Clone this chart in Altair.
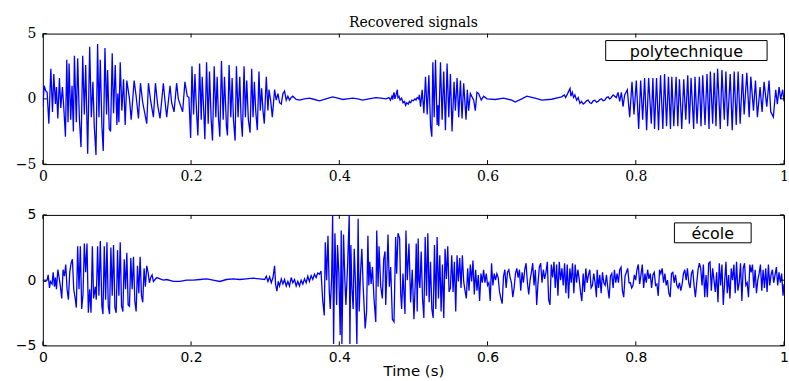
import altair as alt
import pandas as pd

# ---------------- data ----------------
x_ticks = [0, 0.2, 0.4, 0.6, 0.8, 1]
y_ticks = [-5, 0, 5]
top_label = "polytechnique"
bottom_label = "école"

# top panel: (time s, amplitude)
top_burst1 = [
    (0, -0.6), (0.0018, 1.0), (0.0040, 0.6), (0.0058, 0.5), (0.0081, -1.9), (0.0108, 2.3),
    (0.0130, -1.0), (0.0148, 1.9), (0.0170, -0.4), (0.0184, 0.9), (0.0202, -1.5), (0.0224, 1.6),
    (0.0242, -0.7), (0.0264, 0.9), (0.0282, -0.6), (0.0305, -2.9), (0.0323, 3.0), (0.0340, -1.8),
    (0.0354, 2.7), (0.0376, -1.6), (0.0394, 1.0), (0.0412, -2.5), (0.0426, 3.3), (0.0452, -1.8),
    (0.0470, 3.1), (0.0493, -1.5), (0.0515, -3.7), (0.0538, 3.3), (0.0560, -1.2), (0.0578, 2.6),
    (0.0605, -4.2), (0.0632, 4.0), (0.0654, -1.4), (0.0676, 1.3), (0.0694, -2.1), (0.0717, -4.3),
    (0.0739, 4.2), (0.0757, -1.4), (0.0775, 3.0), (0.0797, -2.1), (0.0815, -4.0), (0.0838, 3.9),
    (0.0860, -1.2), (0.0874, 2.2), (0.0896, -2.3), (0.0914, -2.5), (0.0936, 3.5), (0.0954, -1.1),
    (0.0977, 2.6), (0.0999, -2.0), (0.1012, 0.4), (0.1026, -1.8), (0.1044, 2.8), (0.1066, -0.9),
    (0.1089, 1.5), (0.1111, -2.0), (0.1133, 1.4), (0.1169, 0.0), (0.1192, -1.6), (0.1232, 1.4),
    (0.1259, 0.2), (0.1290, -1.5), (0.1317, 1.2), (0.1348, -0.3), (0.1402, -1.9), (0.1425, 1.2),
    (0.1456, -0.2), (0.1492, -1.4), (0.1519, 1.2), (0.1550, -0.5), (0.1581, -1.5), (0.1626, 1.2),
    (0.1649, -0.2), (0.1671, -1.4), (0.1716, 1.0), (0.1738, -0.3), (0.1770, -1.0), (0.1805, 1.2),
    (0.1828, 0.0), (0.1886, -1.0), (0.1917, 1.3), (0.1949, 0.2), (0.1971, 0.1),
]
top_burst2 = [
    (0.1994, -3.0), (0.2012, 2.5), (0.2034, -1.2), (0.2052, 1.9), (0.2074, -1.0), (0.2092, -2.8),
    (0.2115, 2.7), (0.2137, -1.6), (0.2150, 1.7), (0.2173, -1.2), (0.2186, -3.1), (0.2209, 2.8),
    (0.2231, -1.9), (0.2249, 2.1), (0.2271, -1.6), (0.2289, -3.2), (0.2312, 2.5), (0.2334, -1.4),
    (0.2352, 1.7), (0.2370, -1.5), (0.2388, -2.9), (0.2410, 2.9), (0.2433, -1.6), (0.2451, 1.7),
    (0.2477, -2.1), (0.2491, -2.8), (0.2513, 2.6), (0.2536, -1.4), (0.2554, 1.6), (0.2572, -1.6),
    (0.2594, -3.2), (0.2612, 2.5), (0.2634, -1.4), (0.2657, 1.7), (0.2675, -1.6), (0.2692, -2.9),
    (0.2715, 2.5), (0.2733, -1.4), (0.2751, 1.4), (0.2773, -1.6), (0.2796, -2.6), (0.2818, 2.3),
    (0.2836, -1.4), (0.2854, 1.3), (0.2872, -0.9), (0.2894, -2.4), (0.2916, 2.1), (0.2934, -0.9),
    (0.2952, 0.8), (0.2970, -0.9), (0.2988, -1.9), (0.3015, 1.7), (0.3037, -0.9), (0.3051, 0.7),
    (0.3073, -0.1), (0.3096, -1.4), (0.3127, 0.7), (0.3149, -0.1), (0.3172, 0.4), (0.3194, -0.3),
    (0.3217, -0.4), (0.3239, 0.4), (0.3261, 0.6), (0.3284, -0.1), (0.3306, 0.2), (0.3328, -0.1),
    (0.3351, 0.1), (0.3373, 0.2), (0.3418, -0.05),
]
top_quiet1 = [
    (0.3463, -0.1), (0.3530, 0.0), (0.3597, 0.05), (0.3665, -0.05), (0.3732, -0.15), (0.3820, 0.0),
    (0.3911, 0.15), (0.3980, 0.05), (0.4045, -0.05), (0.4110, 0.0), (0.4180, 0.05), (0.4250, 0.0),
    (0.4314, -0.1), (0.4400, 0.0), (0.4493, 0.1), (0.4560, 0.05), (0.4628, 0.0),
    (0.4670, 0.1), (0.4690, -0.1), (0.4710, 0.2), (0.4720, -0.05), (0.4738, 0.5), (0.4750, 0.0),
    (0.4765, 0.3), (0.4783, 0.7), (0.4790, 0.1), (0.4805, 0.2), (0.4820, -0.1), (0.4840, 0.05),
    (0.4860, -0.3), (0.4880, -0.2), (0.4895, -0.5), (0.4910, -0.3), (0.4930, -0.4), (0.4945, -0.2),
    (0.4962, -0.3), (0.4980, -0.1), (0.5000, -0.15), (0.5020, 0.0), (0.5035, -0.1), (0.5051, 0.1),
    (0.5070, 0.0), (0.5080, 0.3),
]
top_burst3 = [
    (0.5096, -0.6), (0.5118, 0.7), (0.5141, -1.1), (0.5163, 1.7), (0.5186, -1.2), (0.5208, 1.8),
    (0.5231, -2.1), (0.5248, -2.9), (0.5262, 2.8), (0.5280, -1.4), (0.5298, 3.0), (0.5320, -2.0),
    (0.5331, -0.5), (0.5342, -2.1), (0.5365, 2.8), (0.5387, -1.6), (0.5409, 2.1), (0.5432, -2.4),
    (0.5454, 2.7), (0.5477, -1.4), (0.5499, 1.9), (0.5521, -2.5), (0.5548, 1.3), (0.5566, -0.9),
    (0.5589, 1.6), (0.5611, -1.4), (0.5634, 1.4), (0.5656, -1.5), (0.5678, 1.2), (0.5710, -1.6),
    (0.5727, 0.7), (0.5745, -0.9), (0.5768, 0.4), (0.5813, -0.1), (0.5835, -0.9), (0.5857, 0.5),
    (0.5880, 0.4), (0.5915, -0.1), (0.5947, 0.2), (0.5992, 0.0),
]
top_quiet2 = [
    (0.6104, -0.05), (0.6216, 0.05), (0.6327, -0.1), (0.6372, -0.25), (0.6462, 0.0), (0.6529, 0.2),
    (0.6641, 0.05), (0.6731, -0.1), (0.6865, -0.03), (0.6955, 0.1), (0.7000, 0.15), (0.7036, 0.3),
    (0.7053, 0.1), (0.7080, 0.4), (0.7113, 0.8), (0.7125, 0.2), (0.7143, 0.5), (0.7161, 0.1),
    (0.7179, 0.3), (0.7201, -0.1), (0.7223, 0.1), (0.7246, -0.35), (0.7268, -0.2), (0.7290, -0.4),
    (0.7313, -0.3), (0.7335, -0.15), (0.7358, -0.1), (0.7380, -0.3), (0.7403, -0.35), (0.7425, -0.15),
    (0.7447, -0.1), (0.7470, -0.25), (0.7492, -0.2), (0.7515, -0.05), (0.7537, 0.0), (0.7560, -0.15),
    (0.7582, -0.1), (0.7605, 0.1), (0.7627, 0.15), (0.7645, 0.0), (0.7662, 0.05), (0.7694, 0.3),
    (0.7738, 0.1), (0.7760, 0.5), (0.7783, -0.2),
]
top_burst4 = [
    (0.7806, 0.5), (0.7828, -0.6), (0.7850, 0.3), (0.7886, 0.7), (0.7918, -1.4), (0.7949, 1.3),
    (0.7976, -1.2), (0.8007, 1.4), (0.8039, -2.3), (0.8066, 1.4), (0.8093, -1.6), (0.8119, 1.6),
    (0.8146, -2.4), (0.8173, 1.6), (0.8209, -1.9), (0.8231, 1.6), (0.8253, -2.3), (0.8280, 1.6),
    (0.8307, -2.4), (0.8334, 1.8), (0.8365, -2.3), (0.8388, 1.9), (0.8415, -2.1), (0.8441, 1.7),
    (0.8468, -2.3), (0.8486, 1.7), (0.8513, -2.1), (0.8544, 1.7), (0.8567, -2.1), (0.8589, 1.5),
    (0.8620, -2.3), (0.8647, 1.5), (0.8674, -1.6), (0.8701, 1.8), (0.8723, -1.9), (0.8746, 1.6),
    (0.8781, -2.3), (0.8799, 1.7), (0.8826, -1.9), (0.8858, 1.7), (0.8880, -2.1), (0.8903, 1.8),
    (0.8934, -2.0), (0.8961, 1.9), (0.8988, -2.3), (0.9006, 2.1), (0.9037, -1.9), (0.9059, 2.0),
    (0.9082, -2.1), (0.9104, 2.3), (0.9140, -2.3), (0.9162, 2.2), (0.9194, -1.6), (0.9216, 2.1),
    (0.9239, -2.1), (0.9274, 1.9), (0.9301, -2.4), (0.9328, 2.1), (0.9355, -2.0), (0.9381, 2.1),
    (0.9408, -1.9), (0.9440, 1.9), (0.9462, -1.2), (0.9498, 2.0), (0.9530, -1.4), (0.9552, 1.7),
    (0.9588, -0.9), (0.9615, 1.4), (0.9641, -1.4), (0.9677, 0.9), (0.9704, -1.0), (0.9731, 1.3),
    (0.9767, -0.6), (0.9798, 1.4), (0.9821, -1.0), (0.9856, -1.4), (0.9888, 0.7), (0.9910, -0.4),
    (0.9933, 0.9), (0.9955, 0.0), (0.9982, 0.7), (1.0, -0.2),
]

# bottom panel: (time s, amplitude)
bottom_burst1 = [
    (0, -0.1), (0.0036, -0.1), (0.0058, 0.0), (0.0072, 0.4), (0.0090, -0.6), (0.0103, -0.1),
    (0.0125, -0.3), (0.0139, 0.6), (0.0157, -0.5), (0.0170, 0.2), (0.0184, -0.7), (0.0202, 0.8),
    (0.0220, 0.2), (0.0237, -0.5), (0.0255, -1.4), (0.0273, 0.8), (0.0291, 0.3), (0.0309, 1.2),
    (0.0327, -0.7), (0.0345, -1.5), (0.0363, 0.6), (0.0381, 1.3), (0.0399, 1.6), (0.0417, -0.7),
    (0.0439, -1.5), (0.0452, -2.1), (0.0470, 2.6), (0.0488, -0.7), (0.0506, 2.6), (0.0524, -2.2),
    (0.0542, -1.1), (0.0560, 2.8), (0.0578, 0.6), (0.0596, 2.8), (0.0614, -2.5), (0.0632, -0.7),
    (0.0650, -2.5), (0.0668, 2.6), (0.0685, -1.4), (0.0708, -0.5), (0.0721, -1.5), (0.0739, 2.6),
    (0.0757, -1.2), (0.0775, 3.0), (0.0797, -2.0), (0.0811, -2.6), (0.0829, 2.6), (0.0847, -1.5),
    (0.0865, 2.9), (0.0883, -2.0), (0.0900, -2.6), (0.0918, 2.5), (0.0936, -1.2), (0.0954, 2.7),
    (0.0972, -2.1), (0.0990, -2.5), (0.1008, 2.3), (0.1026, -1.2), (0.1044, 2.9), (0.1062, -2.0),
    (0.1080, -2.4), (0.1098, 1.6), (0.1116, -0.7), (0.1133, 2.1), (0.1151, -1.9), (0.1169, -2.0),
    (0.1187, 1.7), (0.1205, -0.7), (0.1223, 1.8), (0.1241, -1.6), (0.1259, -2.4), (0.1277, 1.1),
    (0.1295, -1.0), (0.1313, 1.8), (0.1331, -1.2), (0.1348, -1.7), (0.1366, 0.9), (0.1384, -0.5),
    (0.1402, 1.1), (0.1420, 0.6), (0.1438, -0.2), (0.1456, 0.2), (0.1474, 0.4), (0.1492, -0.1),
    (0.1514, 0.05), (0.1537, 0.2), (0.1581, 0.1), (0.1626, 0.0), (0.1671, 0.05),
]
bottom_quiet = [
    (0.1761, -0.1), (0.1850, -0.1), (0.1940, 0.0), (0.2029, 0.0), (0.2119, 0.05), (0.2209, 0.1),
    (0.2298, 0.0), (0.2388, -0.1), (0.2477, 0.05), (0.2567, 0.1), (0.2657, 0.05), (0.2746, 0.1),
    (0.2836, 0.15), (0.2925, 0.1), (0.2993, 0.05),
]
bottom_noise = [
    (0.3015, 0.3), (0.3037, -0.1), (0.3060, 0.25), (0.3082, -0.2), (0.3105, 0.2), (0.3127, 1.1),
    (0.3140, -0.3), (0.3158, -0.85), (0.3176, -0.1), (0.3194, -0.45), (0.3217, 0.1), (0.3239, -0.3),
    (0.3261, 0.05), (0.3284, -0.45), (0.3306, -0.1), (0.3328, -0.45), (0.3351, 0.2), (0.3373, -0.2),
    (0.3396, 0.05), (0.3418, -0.45), (0.3440, -0.1), (0.3463, -0.45), (0.3485, 0.0), (0.3508, -0.3),
    (0.3530, 0.1), (0.3553, -0.2), (0.3575, 0.3), (0.3597, -0.1), (0.3620, 0.35), (0.3642, 0.05),
    (0.3665, 0.45), (0.3687, 0.2), (0.3709, 0.55), (0.3732, 0.45), (0.3753, 0.7),
]
bottom_burst2 = [
    (0.3775, -1.5), (0.3797, -2.7), (0.3811, 2.9), (0.3829, 0.0), (0.3847, 3.4), (0.3865, -0.9),
    (0.3878, -2.2), (0.3896, 0.1), (0.3910, 5.0), (0.3923, -4.9), (0.3941, 3.6), (0.3964, -1.9),
    (0.3976, 2.7), (0.3994, 0.5), (0.4012, -4.2), (0.4026, 3.8), (0.4035, -4.9), (0.4057, 3.5),
    (0.4075, 0.0), (0.4089, -1.9), (0.4111, 1.0), (0.4134, 5.0), (0.4143, -4.9), (0.4156, 2.7),
    (0.4169, -0.5), (0.4187, -2.2), (0.4201, 2.4), (0.4219, -0.3), (0.4237, -4.9), (0.4254, 4.7),
    (0.4268, -2.4), (0.4286, 0.5), (0.4304, 2.4), (0.4322, -0.5), (0.4349, -3.7), (0.4368, -2.4),
    (0.4386, 3.4), (0.4398, -0.4), (0.4411, 1.4), (0.4429, -0.3), (0.4447, 1.0), (0.4469, -1.5),
    (0.4492, -3.2), (0.4505, 3.8), (0.4523, -0.5), (0.4536, 2.6), (0.4559, -0.5), (0.4581, -1.4),
    (0.4599, 1.6), (0.4617, 2.2), (0.4626, -1.9), (0.4644, 1.0), (0.4657, 3.5), (0.4675, -0.5),
    (0.4693, 1.0), (0.4716, -3.0), (0.4738, -3.2), (0.4760, 3.3), (0.4774, 0.5), (0.4792, 3.6),
    (0.4814, 3.2), (0.4828, -1.0), (0.4841, -2.2), (0.4859, 0.5), (0.4886, -2.6), (0.4899, 3.8),
    (0.4917, 0.0), (0.4940, 2.8), (0.4962, -1.7), (0.4984, 0.8), (0.5007, -3.0), (0.5029, 0.5),
    (0.5038, 2.8), (0.5051, -2.4), (0.5064, 3.2), (0.5075, 0.0),
]
# evenly sampled stretches of the bottom panel (one value every sample_step s)
sample_step = 0.001791
bottom_tail1_start = 0.5087
bottom_tail1_v = [
    -0.6, 2.2, -1.4, -2.9, 3.3, -1.2, 3.6, -1.7, 1.4, -2.2, -2.9, 2.7, -2.2, 3.3, -1.4, 1.9,
    -2.4, 1.2, -2.9, 2.4, 0.1, 2.6, -0.9, -0.6, 1.9, -0.9, 1.4, -2.4, 1.9, -0.1, 1.7, -0.6,
    1.9, -0.1, -0.8, -1.4, 0.9, -0.8, 1.2, -0.1, 1.5, -1.1, 0.8, -0.8, 0.4, -1.6, 0.5, -0.2,
    0.8, -0.2, 0.5, -0.4, -0.2, -1.6, 1.3, -0.4, 0.5, 0.0, 0.5, 0.2, -0.9, -1.4, -1.8, 0.3,
    0.8, -0.6, 0.6, 0.8, 0.2, -0.2, -1.3, -0.6, 0.5, 0.9, 0.2, 0.8, -0.8, 0.6, -0.2, 0.8,
    1.3, -0.2, -1.1, 0.0, 0.6, 1.3, -0.4, 0.8, -1.9, -0.2, 1.0, 1.3, -0.2, 0.8, 0.1, 0.6,
    1.4, -1.5, -1.9, 1.2, 0.2, 1.4, -0.6, 1.2, -1.2, 1.4, 0.0, 0.9, -0.4, 1.3, -1.0, 1.2,
    -1.4, 0.9, -0.2, 1.3, -1.0, 1.2, -0.2, 0.8, 0.1, -0.9, -1.6, 0.5, -0.9, 0.9, -0.2, 0.4,
    0.8, -0.6, -0.4, 0.5, -0.2, -1.3,
]
bottom_tail2_start = 0.7479
bottom_tail2_v = [
    0.8, -0.6, 0.4, -1.0, 0.6, -0.2, -0.4, 0.4, -0.6, -1.4, 0.3, 0.5, -0.6, 0.8, -0.2, 0.5,
    -0.2, 0.8, 1.0, -0.8, -1.3, 0.3, 0.6, 0.9, -0.2, -0.2, -0.6, -0.4, 0.4, 0.0, 0.8, 1.2,
    -0.3, 0.4, 1.2, -0.6, 0.5, -0.2, 0.8, 0.1, 0.5, -0.6, 0.4, 0.6, -0.4, -0.3, -1.2, 0.8,
    0.5, 0.9, -0.2, 0.5, -0.4, 0.0, -1.0, -1.3, 0.5, 0.6, -0.2, 0.4, -0.4, -0.6, -0.2, -0.8,
    -0.3, 0.5, 0.8, 0.0, 0.9, -0.2, -0.6, 0.5, 0.8, -0.4, -1.3, -0.2, 0.8, 1.3, 0.9, -0.4,
    1.2, -1.3, 0.4, -1.3, 1.3, 1.4, -0.8, 0.9, 0.0, -0.9, 0.6, -1.7, 1.3, -0.4, 1.2, -1.9,
    -0.2, 1.4, -1.0, 0.4, -1.4, 0.9, 0.0, 1.2, -1.0, 1.4, -0.8, -0.2, 1.3, -1.6, 0.9, 1.3,
    -0.4, -0.2, -1.3, 1.2, 0.6, 1.2, -0.6, 0.8, -1.0, 0.0, 0.5, 1.2, -0.8, 0.8, -0.6, 0.9,
    -0.9, 1.2, -0.4, 0.4, 0.8, -0.2, 0.4, 1.0, -0.4, 0.6, -0.2, 0.5, -1.2,
]
bottom_end = [(1.0, -0.3)]

# ---------------- build tables ----------------
top_rows = top_burst1 + top_burst2 + top_quiet1 + top_burst3 + top_quiet2 + top_burst4
bot_rows = bottom_burst1 + bottom_quiet + bottom_noise + bottom_burst2
bot_rows += [(bottom_tail1_start + i * sample_step, v) for i, v in enumerate(bottom_tail1_v)]
bot_rows += [(bottom_tail2_start + i * sample_step, v) for i, v in enumerate(bottom_tail2_v)]
bot_rows += bottom_end
top_df = pd.DataFrame(top_rows, columns=["t", "v"])
bot_df = pd.DataFrame([r for r in bot_rows if r[0] <= 1.0], columns=["t", "v"])
xt_df = pd.DataFrame({"t": x_ticks})
yt_df = pd.DataFrame({"v": y_ticks})

# ---------------- layout / style ----------------
W, H = 744, 131
TICK = 4
BLUE = "#0000ff"
LABEL_EXPR = "datum.value == 0 ? '0' : (datum.value == 1 ? '1' : format(datum.value, '.1f'))"


def panel(df, font, label, box, xtitle):
    axis_x = alt.Axis(values=x_ticks, labelExpr=LABEL_EXPR, ticks=False, domain=False, grid=False,
                      labelFont=font, labelFontSize=14, labelColor="black", labelPadding=5,
                      labelFlush=False, labelOverlap=False, minExtent=18, maxExtent=18,
                      titleFont="DejaVu Sans", titleFontSize=15, titleFontWeight="normal",
                      titleColor="black", titlePadding=0)
    axis_y = alt.Axis(values=y_ticks, ticks=False, domain=False, grid=False,
                      labelFont=font, labelFontSize=14, labelColor="black", labelPadding=7,
                      labelFlush=False, labelOverlap=False, minExtent=37, maxExtent=37)
    xs = alt.Scale(domain=[0, 1], nice=False, zero=False)
    ys = alt.Scale(domain=[-5, 5], nice=False, zero=False)
    if xtitle:
        x_enc = alt.X("t:Q", scale=xs, axis=axis_x, title=xtitle)
    else:
        x_enc = alt.X("t:Q", scale=xs, axis=axis_x, title=None)
    y_enc = alt.Y("v:Q", scale=ys, axis=axis_y, title=None)

    line = alt.Chart(df).mark_line(color=BLUE, strokeWidth=1.3, clip=True).encode(x=x_enc, y=y_enc)
    xt_top = alt.Chart(xt_df).mark_rule(color="black", strokeWidth=1).encode(
        x=x_enc, y=alt.value(0), y2=alt.value(TICK))
    xt_bot = alt.Chart(xt_df).mark_rule(color="black", strokeWidth=1).encode(
        x=x_enc, y=alt.value(H - TICK), y2=alt.value(H))
    yt_left = alt.Chart(yt_df).mark_rule(color="black", strokeWidth=1).encode(
        y=y_enc, x=alt.value(0), x2=alt.value(TICK))
    yt_right = alt.Chart(yt_df).mark_rule(color="black", strokeWidth=1).encode(
        y=y_enc, x=alt.value(W - TICK), x2=alt.value(W))
    lab_df = pd.DataFrame({"label": [label]})
    bx1, by1, bx2, by2 = box
    rect = alt.Chart(lab_df).mark_rect(fill="white", stroke="black", strokeWidth=1).encode(
        x=alt.value(bx1), x2=alt.value(bx2), y=alt.value(by1), y2=alt.value(by2))
    txt = alt.Chart(lab_df).mark_text(font="DejaVu Sans", fontSize=16, color="black",
                                       align="center", baseline="middle").encode(
        x=alt.value((bx1 + bx2) / 2), y=alt.value((by1 + by2) / 2 + 1), text="label:N")
    return alt.layer(line, xt_top, xt_bot, yt_left, yt_right, rect, txt).properties(width=W, height=H)


top = panel(top_df, "DejaVu Serif", top_label, (565, 7, 727, 27), None).properties(
    title=alt.TitleParams(text="Recovered signals", font="DejaVu Serif", fontSize=14,
                          fontWeight="normal", color="black", anchor="middle", frame="group",
                          offset=-3))
bottom = panel(bot_df, "DejaVu Sans", bottom_label, (634, 8, 711, 28), "Time (s)")

chart = alt.vconcat(top, bottom, spacing=51, bounds="flush").properties(
    padding={"left": 5, "top": 14, "right": 0, "bottom": 0}
).configure(background="white").configure_view(stroke="black", strokeWidth=1)

chart.save("out.html", embed_options={"renderer": "svg", "actions": False})
